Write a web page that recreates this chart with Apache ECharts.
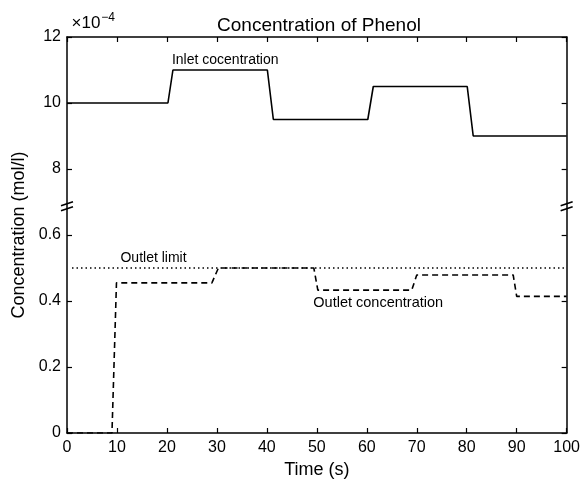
<!DOCTYPE html>
<html><head><meta charset="utf-8">
<script src="https://cdn.jsdelivr.net/npm/echarts@6/dist/echarts.min.js"></script>
<style>html,body{margin:0;padding:0;background:#fff;overflow:hidden}#c{width:583px;height:484px}</style>
</head><body><div id="c"></div>
<script>
const chartTitle = 'Concentration of Phenol';
// Time (s)
const inletTime = [0, 20.2, 21.2, 40.1, 41.3, 60.2, 61.3, 80.1, 81.3, 100];
// Inlet concentration, in units of 1e-4 mol/l (upper segment)
const inletConc = [10, 10, 11, 11, 9.5, 9.5, 10.5, 10.5, 9, 9];
// Outlet concentration (lower segment)
const outletTime = [0, 9.0, 9.9, 29.0, 30.3, 49.4, 50.2, 69.0, 70.0, 89.3, 90.0, 100];
const outletConc = [0, 0, 0.455, 0.455, 0.5, 0.5, 0.433, 0.433, 0.479, 0.479, 0.414, 0.414];
// Outlet limit
const limitTime = [1, 100];
const limitConc = [0.5, 0.5];
// Axis ticks
const lowerTickLabels = ['0', '0.2', '0.4', '0.6'];
const upperTickLabels = ['8', '10', '12'];
// Broken axis: lower segment drawn at 10x, upper segment as is
const lowerScale = 10;
const breakAt = 6.87;

const disp = {};
lowerTickLabels.forEach((l,i)=>{disp[i*2]=l;});
upperTickLabels.forEach((l,i)=>{disp[8+i*2]=l;});

const chart = echarts.init(document.getElementById('c'), null, {renderer:'canvas'});
const FONT = 'Liberation Sans, Arial, Helvetica, sans-serif';
const axisCommon = {
  axisLine:{show:true, onZero:false, lineStyle:{color:'#000', width:1.5}},
  axisTick:{show:true, inside:true, length:5, lineStyle:{color:'#000', width:1.2}},
  splitLine:{show:false}
};
const option = {
  animation:false,
  backgroundColor:'#fff',
  title:{text:chartTitle, left:314, textAlign:'center', top:11,
    textStyle:{fontFamily:FONT, fontSize:19, fontWeight:'normal', color:'#000'}},
  grid:{left:67, right:12, top:37, bottom:47, containLabel:false},
  xAxis:[
    Object.assign({type:'value', min:0, max:100, interval:10, position:'bottom',
      name:'Time (s)', nameLocation:'middle', nameGap:28,
      nameTextStyle:{fontFamily:FONT, fontSize:18, color:'#000'},
      axisLabel:{fontFamily:FONT, fontSize:16, color:'#000', margin:7}}, axisCommon),
    Object.assign({type:'value', min:0, max:100, interval:10, position:'top',
      axisLabel:{show:false}}, axisCommon)
  ],
  yAxis:[
    Object.assign({type:'value', min:0, max:12, interval:2, position:'left',
      name:'Concentration (mol/l)', nameLocation:'middle', nameGap:35,
      nameTextStyle:{fontFamily:FONT, fontSize:18, color:'#000'},
      axisLabel:{fontFamily:FONT, fontSize:16, color:'#000', margin:6,
        formatter:v=>disp[v]!==undefined?disp[v]:''}}, axisCommon),
    Object.assign({type:'value', min:0, max:12, interval:2, position:'right',
      axisLabel:{show:false}}, axisCommon)
  ],
  series:[
    {type:'line', name:'Inlet', symbol:'none', data:inletTime.map((t,i)=>[t, inletConc[i]]),
      lineStyle:{color:'#000', width:1.6, type:'solid'}},
    {type:'line', name:'Limit', symbol:'none', data:limitTime.map((t,i)=>[t, limitConc[i]*lowerScale]),
      lineStyle:{color:'#000', width:1.4, type:[1.5,3]}},
    {type:'line', name:'Outlet', symbol:'none', data:outletTime.map((t,i)=>[t, outletConc[i]*lowerScale]),
      lineStyle:{color:'#000', width:1.6, type:[6,4]}}
  ]
};
chart.setOption(option);

function px(x,y){return chart.convertToPixel({xAxisIndex:0,yAxisIndex:0},[x,y]);}
const g = [];
[0,100].forEach(xv=>{
  const p = px(xv, breakAt);
  [-2.5,2.5].forEach(dy=>{
    g.push({type:'line', shape:{x1:p[0]-6, y1:p[1]+dy+2, x2:p[0]+6, y2:p[1]+dy-2},
      style:{stroke:'#000', lineWidth:1.6}, z:100});
  });
});
const lab = (txt, x, y, size)=>{
  const p = px(x,y);
  g.push({type:'text', x:p[0], y:p[1], style:{text:txt, fill:'#000', font:size+'px '+FONT,
    textAlign:'left', textVerticalAlign:'middle'}, z:100});
};
lab('Inlet cocentration', 21.0, 11.31, 14);
lab('Outlet limit', 10.7, 5.31, 14);
lab('Outlet concentration', 49.3, 3.93, 14.5);
const pm = px(0.9, 12);
g.push({type:'text', x:pm[0], y:pm[1]-2, style:{
  rich:{a:{fontSize:17, fontFamily:FONT, fill:'#000'}, b:{fontSize:12, fontFamily:FONT, fill:'#000', verticalAlign:'top', padding:[0,0,11,1]}},
  text:'{a|×10}{b|−4}', textVerticalAlign:'bottom', textAlign:'left'}, z:100});
chart.setOption({graphic:g});
</script></body></html>
